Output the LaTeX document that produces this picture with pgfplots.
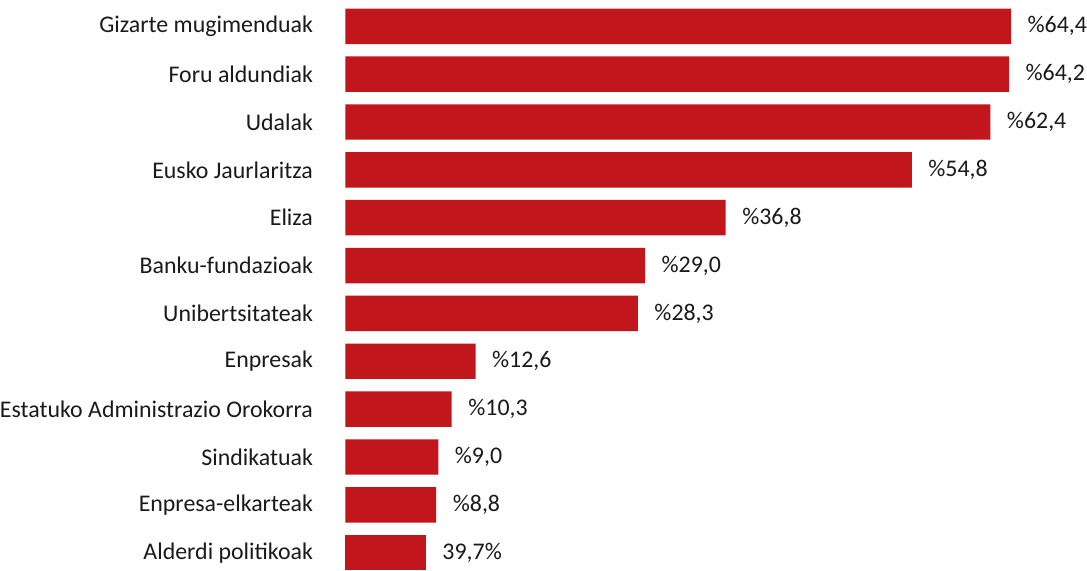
\documentclass[border=0pt]{standalone}
\usepackage{pgfplots}
\pgfplotsset{compat=1.18}
\usepackage{fontspec}
\setmainfont{Carlito}
\definecolor{barred}{HTML}{C1161C}
\definecolor{txt}{HTML}{1A1A1A}
\begin{document}
\fontsize{12}{14}\selectfont
\begin{tikzpicture}
\begin{axis}[
  xbar, x=5.11pt, y=23.65pt,
  xmin=0, xmax=70, ymin=-0.36, ymax=11.55,
  enlargelimits=false, clip=false,
  axis line style={draw=none}, tick style={draw=none},
  xtick=\empty,
  ytick={0,...,11},
  yticklabels={Alderdi politikoak, Enpresa-elkarteak, Sindikatuak, Estatuko Administrazio Orokorra, Enpresak, Unibertsitateak, Banku-fundazioak, Eliza, Eusko Jaurlaritza, Udalak, Foru aldundiak, Gizarte mugimenduak},
  yticklabel style={font=\fontsize{11.8}{14}\selectfont, text=txt, inner sep=0pt, xshift=-11.5pt},
  bar width=17.5pt, bar shift=0pt,
  point meta=x,
  /pgf/number format/.cd, use comma, fixed, fixed zerofill, precision=1, assume math mode=true,
]
\addplot[fill=barred, draw=none,
  nodes near coords={\%\pgfmathprintnumber{\pgfplotspointmeta}},
  nodes near coords style={anchor=west, inner sep=0pt, xshift=8pt, text=txt, font=\fontsize{11.8}{14}\selectfont}]
  coordinates {(64.4,11) (64.2,10) (62.4,9) (54.8,8) (36.8,7) (29.0,6) (28.3,5) (12.6,4) (10.3,3) (9.0,2) (8.8,1)};
\addplot[fill=barred, draw=none,
  nodes near coords={39,7\%},
  nodes near coords style={anchor=west, inner sep=0pt, xshift=8pt, text=txt, font=\fontsize{11.8}{14}\selectfont}]
  coordinates {(7.8,0)};
\end{axis}
\end{tikzpicture}
\end{document}
